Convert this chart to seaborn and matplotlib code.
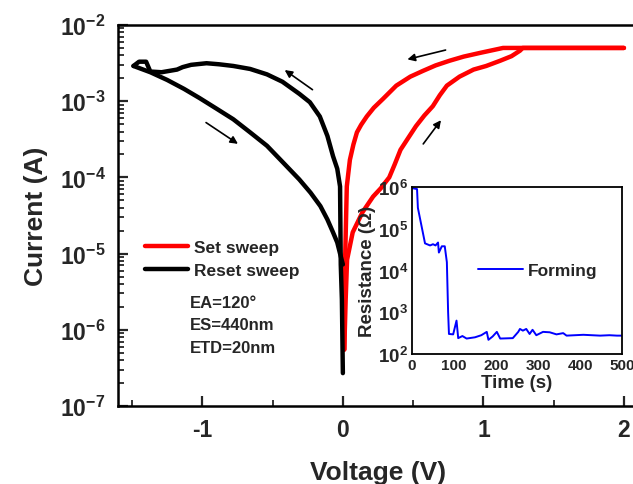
import numpy as np
import seaborn as sns
import matplotlib
matplotlib.use("Agg")
import matplotlib.pyplot as plt
from matplotlib.ticker import (LogLocator, MultipleLocator, LogFormatterMathtext,
                               NullFormatter, FuncFormatter)
from matplotlib.lines import Line2D

# ---- I-V data -------------------------------------------------------------
# Set sweep, forward branch (0 V -> 2 V, hits 5 mA compliance)
set_fwd_v = [0.01, 0.02, 0.03, 0.07, 0.14, 0.215, 0.27, 0.30, 0.33, 0.37, 0.41, 0.47,
             0.52, 0.58, 0.64, 0.69, 0.74, 0.83, 0.93, 1.02, 1.12, 1.20, 1.26, 1.28, 1.60, 2.00]
set_fwd_i = [5.5e-7, 2.5e-6, 8.3e-6, 1.9e-5, 3.5e-5, 5.6e-5, 7.2e-5, 8.5e-5, 1.0e-4, 1.5e-4, 2.3e-4, 3.4e-4,
             4.7e-4, 6.5e-4, 8.6e-4, 1.2e-3, 1.6e-3, 2.1e-3, 2.6e-3, 2.9e-3, 3.4e-3, 3.9e-3, 4.6e-3,
             5.0e-3, 5.0e-3, 5.0e-3]
# Set sweep, return branch (2 V -> 0 V)
set_ret_v = [2.00, 1.60, 1.14, 0.975, 0.86, 0.76, 0.66, 0.57, 0.48, 0.38, 0.285, 0.22, 0.17,
             0.13, 0.10, 0.075, 0.05, 0.038, 0.028, 0.022, 0.015, 0.01]
set_ret_i = [5.0e-3, 5.0e-3, 5.0e-3, 4.3e-3, 3.85e-3, 3.4e-3, 2.95e-3, 2.5e-3, 2.1e-3, 1.6e-3, 1.07e-3,
             8.2e-4, 6.3e-4, 4.9e-4, 3.9e-4, 2.7e-4, 1.7e-4, 1.1e-4, 7.6e-5, 2.5e-5, 7.0e-6, 5.5e-7]
# Reset sweep, first branch (0 V -> -1.5 V)
reset_out_v = [0.0, -0.007, -0.015, -0.02, -0.04, -0.07, -0.11, -0.164, -0.235, -0.31, -0.43,
               -0.54, -0.66, -0.78, -0.88, -0.97, -1.08, -1.14, -1.18, -1.29, -1.37, -1.40, -1.45, -1.49]
reset_out_i = [2.7e-7, 2.5e-6, 7.2e-6, 7.6e-5, 1.3e-4, 1.9e-4, 3.5e-4, 6.3e-4, 9.7e-4, 1.25e-3, 1.8e-3,
               2.25e-3, 2.65e-3, 2.9e-3, 3.05e-3, 3.15e-3, 3.0e-3, 2.8e-3, 2.6e-3, 2.4e-3, 2.45e-3,
               3.3e-3, 3.3e-3, 2.9e-3]
# Reset sweep, return branch (-1.5 V -> 0 V)
reset_back_v = [-1.49, -1.37, -1.25, -1.13, -1.02, -0.90, -0.78, -0.66, -0.54, -0.43, -0.31,
                -0.23, -0.16, -0.11, -0.07, -0.04, -0.02, 0.0]
reset_back_i = [2.9e-3, 2.4e-3, 1.9e-3, 1.45e-3, 1.1e-3, 8.0e-4, 5.8e-4, 3.9e-4, 2.6e-4, 1.6e-4, 9.4e-5,
                6.3e-5, 4.2e-5, 2.8e-5, 1.9e-5, 1.4e-5, 1.0e-5, 7.2e-6]

# ---- forming data (inset) --------------------------------------------------
form_t = [2, 12, 14, 19, 31, 43, 50, 56, 62, 64, 71, 78, 83, 86, 88, 98, 106, 110, 120, 130, 150,
          165, 178, 182, 192, 202, 210, 240, 253, 257, 264, 272, 280, 287, 296, 312, 328, 344,
          360, 368, 408, 448, 470, 488, 500]
form_log_r = [5.97, 5.95, 5.5, 5.25, 4.65, 4.6, 4.63, 4.6, 4.67, 4.43, 4.58, 4.58, 4.2, 3.0, 2.48, 2.47,
              2.8, 2.38, 2.43, 2.37, 2.4, 2.45, 2.53, 2.34, 2.42, 2.53, 2.37, 2.38, 2.53, 2.6, 2.56,
              2.6, 2.48, 2.58, 2.45, 2.53, 2.52, 2.47, 2.5, 2.44, 2.46, 2.44, 2.45, 2.44, 2.44]
form_r = [10 ** v for v in form_log_r]

legend_labels = ["Set sweep", "Reset sweep"]
device_notes = ["EA=120°", "ES=440nm", "ETD=20nm"]

sns.set_theme(style="white")
plt.rcParams["font.family"] = ["Liberation Sans", "DejaVu Sans"]
plt.rcParams["font.weight"] = "bold"
plt.rcParams["mathtext.fontset"] = "custom"
plt.rcParams["mathtext.rm"] = "Liberation Sans:bold"
plt.rcParams["mathtext.bf"] = "Liberation Sans:bold"
plt.rcParams["mathtext.it"] = "Liberation Sans:bold"

fig = plt.figure(figsize=(6.33, 4.85), dpi=100)
ax = fig.add_axes([118 / 633, 1 - 407 / 485, 520 / 633, 381 / 485])

red = "#ff0000"
lw = 3.2
for v, i in [(set_fwd_v, set_fwd_i), (set_ret_v, set_ret_i)]:
    sns.lineplot(x=v, y=i, sort=False, estimator=None, color=red, lw=lw, ax=ax)
for v, i in [(reset_out_v, reset_out_i), (reset_back_v, reset_back_i)]:
    sns.lineplot(x=v, y=i, sort=False, estimator=None, color="black", lw=lw, ax=ax)

ax.set_yscale("log")
ax.set_xlim(-1.6, 2.1)
ax.set_ylim(1e-7, 1e-2)
ax.xaxis.set_major_locator(MultipleLocator(1))
ax.xaxis.set_minor_locator(MultipleLocator(0.5))
ax.xaxis.set_major_formatter(FuncFormatter(lambda x, p: f"{x:.0f}"))
ax.yaxis.set_major_locator(LogLocator(base=10, numticks=10))
ax.yaxis.set_minor_locator(LogLocator(base=10, subs=np.arange(2, 10), numticks=20))
ax.yaxis.set_major_formatter(LogFormatterMathtext())
ax.yaxis.set_minor_formatter(NullFormatter())
ax.tick_params(axis="both", which="major", direction="in", length=7, width=1.6,
               labelsize=16.5, pad=9, top=False, right=False, left=True, bottom=True)
ax.tick_params(axis="both", which="minor", direction="in", length=4, width=1.3,
               top=False, right=False, left=True, bottom=True)
for s in ax.spines.values():
    s.set_linewidth(1.8)
    s.set_color("black")
ax.set_xlabel("Voltage (V)", fontsize=19, fontweight="bold", labelpad=13)
ax.set_ylabel("Current (A)", fontsize=19, fontweight="bold", labelpad=8)

handles = [Line2D([], [], color=red, lw=lw), Line2D([], [], color="black", lw=lw)]
ax.legend(handles, legend_labels, loc="upper left",
          bbox_to_anchor=(20 / 520, 1 - 208 / 381), frameon=False,
          prop={"size": 12.5, "weight": "bold"}, handlelength=2.5,
          handletextpad=0.3, labelspacing=0.45, borderaxespad=0)

for k, txt in enumerate(device_notes):
    ax.text((190 - 118) / 520, 1 - (303 + 23 * k - 26) / 381, txt,
            transform=ax.transAxes, fontsize=12, fontweight="bold", va="center", ha="left")

# sweep-direction arrows
arrow_kw = dict(arrowstyle="-|>", color="black", lw=1.2, mutation_scale=11)
for (x0, y0), (x1, y1) in [((-0.20, -2.87), (-0.43, -2.57)),
                           ((-0.99, -3.26), (-0.73, -3.58)),
                           ((0.75, -2.32), (0.44, -2.46)),
                           ((0.56, -3.59), (0.71, -3.22))]:
    ax.annotate("", xy=(x1, 10 ** y1), xytext=(x0, 10 ** y0), arrowprops=arrow_kw)

# ---- inset: forming -------------------------------------------------------
ins = fig.add_axes([412 / 633, 1 - 355 / 485, 210 / 633, 167 / 485])
sns.lineplot(x=form_t, y=form_r, sort=False, estimator=None, color="#0000ff", lw=1.4, ax=ins,
             label="Forming")
ins.set_yscale("log")
ins.set_xlim(0, 500)
ins.set_ylim(1e2, 1e6)
ins.xaxis.set_major_locator(MultipleLocator(100))
ins.xaxis.set_minor_locator(MultipleLocator(50))
ins.yaxis.set_major_locator(LogLocator(base=10, numticks=10))
ins.yaxis.set_minor_locator(LogLocator(base=10, subs=np.arange(2, 10), numticks=20))
ins.yaxis.set_major_formatter(LogFormatterMathtext())
ins.yaxis.set_minor_formatter(NullFormatter())
ins.tick_params(axis="y", which="major", direction="in", length=5, width=1.2, labelsize=13.5, pad=3)
ins.tick_params(axis="x", which="major", direction="in", length=4, width=1.2, labelsize=11, pad=3)
ins.tick_params(axis="both", which="minor", direction="in", length=2.5, width=1.0)
for s in ins.spines.values():
    s.set_linewidth(1.3)
    s.set_color("black")
ins.set_xlabel("Time (s)", fontsize=13.5, fontweight="bold", labelpad=1)
ins.set_ylabel("Resistance (Ω)", fontsize=13.5, fontweight="bold", labelpad=1)
ins.legend(loc="center left", bbox_to_anchor=(0.24, 0.5), frameon=False,
           prop={"size": 12.5, "weight": "bold"}, handlelength=2.6, handletextpad=0.3)

fig.savefig("out.png", dpi=100)
